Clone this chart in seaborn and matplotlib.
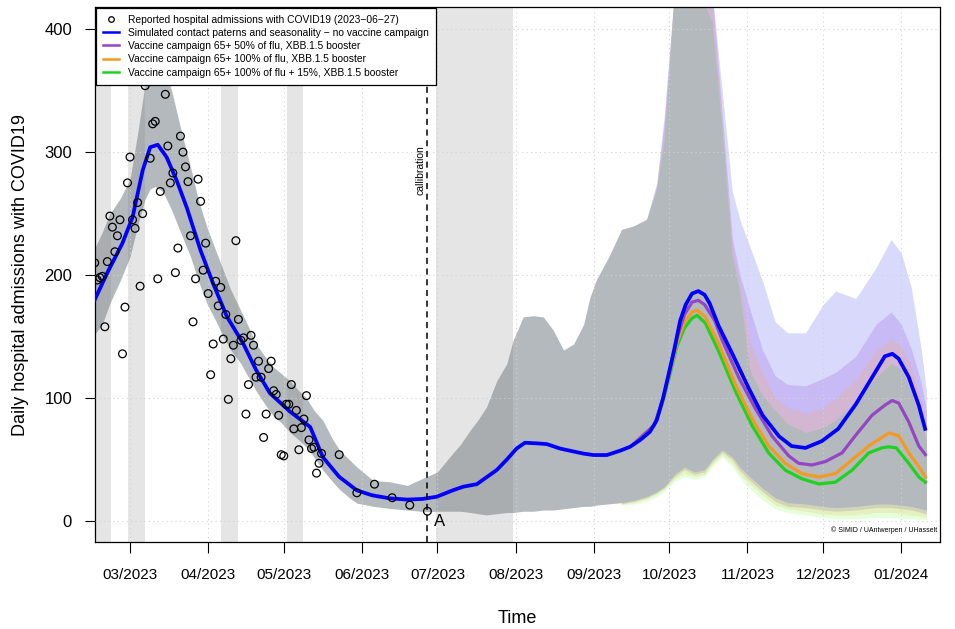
import numpy as np
import pandas as pd
import matplotlib
matplotlib.use("Agg")
import matplotlib.pyplot as plt
import matplotlib.dates as mdates
from matplotlib.lines import Line2D
import seaborn as sns

# ---------------- data (day offsets relative to 2023-03-01) ----------------
BASE = pd.Timestamp("2023-03-01")

obs_day = [-14, -13, -12, -11, -10, -9, -8, -7, -6, -5, -4, -3, -2, -1, 0, 1, 2, 3, 4, 5,
           6, 8, 9, 10, 11, 12, 14, 15, 16, 17, 18, 19, 20, 21, 22, 23, 24, 25, 26, 27,
           28, 29, 30, 31, 32, 33, 34, 35, 36, 37, 38, 39, 40, 41, 42, 43, 44, 45, 46, 47,
           48, 49, 50, 51, 52, 53, 54, 55, 56, 57, 58, 59, 60, 61, 62, 63, 64, 65, 66, 67,
           68, 69, 70, 71, 72, 73, 74, 75, 76, 83, 90, 97, 104, 111, 118]
obs_val = [210, 196, 198, 199, 158, 211, 248, 239, 219, 232, 245, 136, 174, 275, 296, 245, 238, 259, 191, 250,
           354, 295, 323, 325, 197, 268, 347, 305, 275, 283, 202, 222, 313, 300, 288, 276, 232, 162, 197, 278,
           260, 204, 226, 185, 119, 144, 195, 175, 190, 148, 168, 99, 132, 143, 228, 164, 147, 149, 87, 111,
           151, 143, 117, 130, 117, 68, 87, 124, 130, 106, 103, 86, 54, 53, 95, 95, 111, 75, 90, 58,
           76, 83, 102, 66, 59, 60, 39, 47, 55, 54, 23, 30, 19, 13, 8]

# simulated median, no vaccine campaign
blue_day = [-14, -9, -3, 1, 5, 8, 11, 14.5, 18.5, 22.5, 28, 33, 38.5, 45, 50, 55.5, 63.5, 68, 71.5, 76.5,
            83, 90, 96, 103, 110, 116, 121.7, 128.3, 132.3, 137.6, 141.5, 145.5, 149.5, 153.4, 156.7, 161.4,
            165.4, 170.6, 174.6, 179.9, 183.9, 189.2, 194.4, 198.4, 202.4, 206.3, 209, 211.6, 214, 216,
            218.3, 220.5, 223, 225.5, 228, 230, 233.5, 239, 245.5, 251, 257.5, 262.5, 268, 274.5, 281, 288,
            294.5, 299.5, 302.5, 305, 309, 313, 315.5]
blue_val = [180, 202, 226, 247, 285, 304, 306, 296, 277, 255, 220, 193, 166, 144, 123, 104, 89, 82, 76.5, 52,
            36, 25, 21, 18.5, 17.5, 18, 19.8, 25.2, 28, 30, 35.7, 41.5, 50, 59, 63.7, 63.2,
            62.6, 59, 57.2, 54.9, 53.7, 53.7, 57.2, 60.4, 65.9, 72.6, 82, 100.6, 122, 140,
            163, 176, 185, 187, 184, 177, 159, 136, 108, 86, 69, 61, 59.5, 65, 75, 95,
            117, 134, 136, 132, 117, 94, 75]

purple_day = [200, 208, 211, 214, 217, 220, 223, 225.5, 228, 232, 235, 241.5, 248, 254.8, 261.4, 265.3,
              270.6, 275.9, 282.5, 287.8, 294.4, 299.7, 302.4, 305, 309, 313, 315.6]
purple_val = [63, 78, 96, 120, 148, 168, 178, 179.5, 176, 163, 147, 117, 92, 69, 53, 47,
              45.6, 48.4, 55.4, 69.4, 86, 94.5, 98, 96, 80.6, 61, 54]

orange_day = [200, 208, 211, 214, 217, 220, 223, 225, 228.3, 233.6, 240.2, 246.8, 253.4, 260, 266.6, 273.3,
              279.9, 286.5, 293.1, 298.4, 301.1, 305, 309, 313, 315.6]
orange_val = [63, 78, 95, 119, 145, 162, 170, 171.5, 166, 144, 111, 83.4, 61, 47, 38.6, 35.8,
              38.6, 49.8, 61, 68, 71.6, 69.4, 55.4, 44.2, 35.8]

green_day = [200, 208, 211, 214, 217, 220, 223, 225, 228.3, 233.6, 240.2, 246.8, 253.4, 260, 266.6, 273.3,
             279.9, 286.5, 293.1, 298.4, 301.1, 304, 309, 313, 315.6]
green_val = [63, 78, 94, 117, 142, 157, 165, 167.3, 161, 138, 105.7, 77.8, 55.4, 41.4, 34.4, 30.2,
             31.6, 41.4, 55.4, 59.6, 60.4, 59.6, 47, 35.8, 31.6]

# uncertainty band shared by all scenarios (fit + projection before campaign)
pre_day = [-14, -11, -8, -4, 0, 3, 6, 8, 10, 13, 16.5, 20, 24, 27, 30.5, 34, 37, 40, 44, 47,
           50, 53.5, 57, 60, 63.5, 67, 70, 73, 76.5, 80, 83, 87, 90, 96.5, 103, 110, 117.5, 122, 128, 131,
           135, 138, 141.5, 145.5, 149.5, 152, 156, 160, 164, 168, 172, 176, 180, 182.5, 185, 190, 195]
pre_lo = [152, 160, 177, 195, 215, 240, 262, 270, 272, 268, 253, 235, 215, 196, 177, 163, 150, 139, 128, 117,
          106, 95, 85, 80, 72, 66, 60, 52, 41.5, 33, 26, 19, 14.6, 12, 10.3, 9, 7.6, 8, 8, 8,
          7, 6, 5, 6, 7, 7, 8, 8, 9, 9, 10, 11, 12, 12, 13, 14, 15]
pre_hi = [222, 235, 250, 262, 278, 315, 356, 375, 380, 372, 350, 320, 288, 262, 239, 220, 204, 188, 171, 158,
          144, 134, 125, 120, 114, 106, 100, 90, 82, 68, 58, 50, 44, 33, 32, 29, 36, 40, 55, 62,
          74, 82, 93, 114, 128, 147, 166, 167, 166, 155, 139, 144, 160, 182, 196, 215, 237]

# scenario bands after the campaign start
post_day = [195, 200, 205, 209, 212, 216, 220, 224, 228, 231, 235, 239, 242, 246, 251, 256, 261, 268, 275,
            280, 288, 296, 302, 306, 310, 314, 316]
blue_hi = [237, 240, 246, 275, 330, 430, 430, 430, 430, 430, 349, 268, 245, 223, 195, 162, 153, 153, 176,
           187, 181, 206, 229, 218, 190, 139, 106]
purple_hi = [237, 240, 245, 273, 325, 430, 430, 430, 430, 430, 330, 230, 200, 172, 139, 118, 111, 110, 116,
             121, 134, 160, 170, 160, 140, 112, 90]
orange_hi = [237, 240, 245, 271, 318, 430, 430, 430, 430, 420, 322, 222, 192, 145, 120, 100, 92, 88, 92,
             100, 115, 138, 148, 142, 125, 98, 80]
green_hi = [237, 240, 245, 270, 310, 430, 430, 430, 420, 405, 315, 215, 185, 122, 102, 90, 79, 72, 76,
            82, 97, 117, 128, 124, 105, 80, 66]
blue_lo = [15, 17, 20, 24, 28, 38, 44, 40, 42, 50, 58, 52, 44, 36, 27, 19, 15, 14, 12, 11, 12, 14, 14, 13, 12, 10, 9]
purple_lo = [14, 16, 19, 23, 27, 36, 42, 38, 40, 48, 56, 50, 41, 33, 24, 16, 12, 11, 9, 8, 9, 11, 11, 10, 9, 7, 6]
orange_lo = [14, 15, 18, 22, 26, 34, 39, 36, 38, 46, 54, 47, 38, 30, 21, 13, 10, 8, 6, 5, 5, 7, 7, 6, 5, 4, 4]
green_lo = [13, 14, 16, 20, 24, 32, 36, 34, 36, 44, 52, 44, 35, 26, 17, 10, 7, 5, 3, 2, 2, 3, 3, 2, 2, 1, 1]

holiday_start = [-14.5, -0.7, 36.1, 62.2, 121.5]
holiday_end = [-7.5, 6.0, 42.7, 68.8, 151.8]

calib_day = 118

labels = ["Reported hospital admissions with COVID19 (2023\u221206\u221227)",
          "Simulated contact paterns and seasonality \u2212 no vaccine campaign",
          "Vaccine campaign 65+ 50% of flu, XBB.1.5 booster",
          "Vaccine campaign 65+ 100% of flu, XBB.1.5 booster",
          "Vaccine campaign 65+ 100% of flu + 15%, XBB.1.5 booster"]
col_blue, col_purple, col_orange, col_green = "#0000ff", "#9446c4", "#f39a22", "#1fd21f"
GREY = "#b4b9bd"


def d(days):
    return BASE + pd.to_timedelta(np.asarray(days, dtype=float), unit="D")


plt.rcParams["font.family"] = ["Liberation Sans", "DejaVu Sans"]
plt.rcParams["axes.unicode_minus"] = True

fig = plt.figure(figsize=(9.55, 6.29), dpi=100)
ax = fig.add_axes([95 / 955, 87 / 629, 845 / 955, 535 / 629])

# bands
ax.fill_between(d(pre_day), pre_lo, pre_hi, color=GREY, lw=0, zorder=1)
pdates = d(post_day)
ax.fill_between(pdates, blue_lo, blue_hi, color="#d9d9fb", lw=0, zorder=1)
ax.fill_between(pdates, purple_lo, purple_hi, color=(0.63, 0.45, 0.90), alpha=0.30, lw=0, zorder=1)
ax.fill_between(pdates, orange_lo, orange_hi, color=(1.0, 0.65, 0.30), alpha=0.20, lw=0, zorder=1)
ax.fill_between(pdates, green_lo, green_hi, color=(0.5, 1.0, 0.3), alpha=0.20, lw=0, zorder=1)
ax.fill_between(pdates, blue_lo, green_hi, color=GREY, lw=0, zorder=1)

for a, b in zip(holiday_start, holiday_end):
    ax.axvspan(d([a])[0], d([b])[0], color="#7f7f7f", alpha=0.2, lw=0, zorder=1.5)

# lines
sns.lineplot(x=d(green_day), y=green_val, ax=ax, color=col_green, lw=2.3, estimator=None, legend=False, zorder=3.1)
sns.lineplot(x=d(orange_day), y=orange_val, ax=ax, color=col_orange, lw=2.3, estimator=None, legend=False, zorder=3.2)
sns.lineplot(x=d(purple_day), y=purple_val, ax=ax, color=col_purple, lw=2.3, estimator=None, legend=False, zorder=3.3)
sns.lineplot(x=d(blue_day), y=blue_val, ax=ax, color=col_blue, lw=2.7, estimator=None, legend=False, zorder=3.4)

ax.axvline(d([calib_day])[0], color="black", ls=(0, (4, 3)), lw=1.1, zorder=3.5)

sns.scatterplot(x=d(obs_day), y=obs_val, ax=ax, s=31, marker="o", linewidth=0.9, legend=False, zorder=5)
pts = ax.collections[-1]
pts.set_facecolor("none")
pts.set_edgecolor("black")

# texts
ax.text(d([calib_day - 2.6])[0], 285, "callibration", rotation=90, ha="center", va="center", fontsize=7.5)
ax.text(d([calib_day + 5])[0], 0, "A", ha="center", va="center", fontsize=12)
ax.text(0.997, 0.0225, "\u00a9 SIMID / UAntwerpen / UHasselt", transform=ax.transAxes,
        ha="right", va="center", fontsize=5.0)

# axes
ax.set_xlim(d([-13.9])[0], d([321.4])[0])
ax.set_ylim(-17, 418)
ax.set_xticks(pd.date_range("2023-03-01", "2024-01-01", freq="MS"))
ax.xaxis.set_major_formatter(mdates.DateFormatter("%m/%Y"))
ax.set_yticks([0, 100, 200, 300, 400])
ax.tick_params(axis="x", length=8, width=0.8, pad=11, labelsize=11, direction="out", colors="black")
ax.tick_params(axis="y", length=7.5, width=0.8, pad=9, labelsize=12, direction="out", colors="black")
ax.grid(True, color="#d3d3d3", linestyle=(0, (1, 3)), linewidth=0.8)
ax.set_axisbelow(False)
for sp in ax.spines.values():
    sp.set_color("black")
    sp.set_linewidth(0.9)
ax.set_xlabel("Time", fontsize=13, labelpad=20)
ax.set_ylabel("Daily hospital admissions with COVID19", fontsize=13, labelpad=11)

handles = [Line2D([], [], marker="o", ls="none", mfc="none", mec="black", ms=4, mew=0.9),
           Line2D([], [], color=col_blue, lw=1.8),
           Line2D([], [], color=col_purple, lw=1.8),
           Line2D([], [], color=col_orange, lw=1.8),
           Line2D([], [], color=col_green, lw=1.8)]
leg = ax.legend(handles, labels, loc="upper left", bbox_to_anchor=(0, 1), borderaxespad=0.05,
                fontsize=7.4, frameon=True, fancybox=False, edgecolor="black", framealpha=1,
                handlelength=1.6, handletextpad=0.85, labelspacing=0.32, borderpad=0.68)
leg.get_frame().set_linewidth(0.9)
leg.set_zorder(10)

fig.savefig("out.png", dpi=100)
